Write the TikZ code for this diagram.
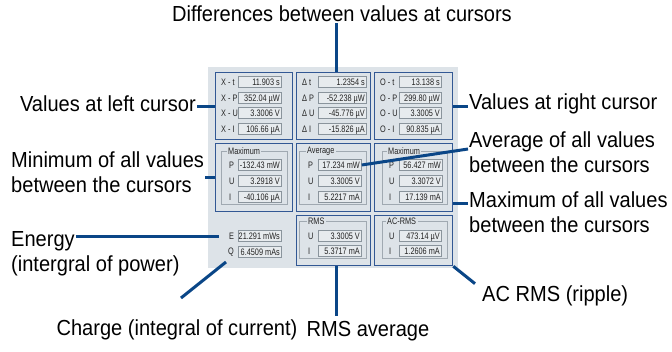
\documentclass[tikz,border=0pt]{standalone}
\usepackage{fontspec}
\setmainfont{Liberation Sans}
\newfontfamily\panelfont[FakeStretch=0.78]{Liberation Sans}
\newfontfamily\annfont[FakeStretch=0.92]{Liberation Sans}
\definecolor{panel}{RGB}{221,227,232}
\definecolor{boxblue}{RGB}{50,88,148}
\definecolor{conn}{RGB}{10,70,135}
\definecolor{fieldfill}{RGB}{231,235,238}
\definecolor{fieldline}{RGB}{138,148,156}
\definecolor{framegray}{RGB}{160,169,177}
\definecolor{paneltext}{RGB}{35,35,35}
\newcommand{\fld}[5]{\pgfmathsetmacro\myfw{#3-#2-4}\node[fld, anchor=west] (#1) at (#2,#4) {\makebox[\myfw pt][r]{#5}};}
\begin{document}
\begin{tikzpicture}[x=1pt,y=-1pt,
  ann/.style={font=\annfont\fontsize{21.8}{25}\selectfont, text=black, inner sep=1pt, align=left},
  lbl/.style={font=\panelfont\fontsize{9.4}{11}\selectfont, text=paneltext, inner sep=0pt},
  fld/.style={draw=fieldline, fill=fieldfill, line width=0.7pt, font=\panelfont\fontsize{9.4}{11}\selectfont, text=paneltext, inner xsep=1.5pt, inner ysep=0pt, minimum height=11pt, text height=6.7pt, text depth=0pt},
  bbox/.style={draw=boxblue, line width=1.3pt, inner sep=0pt},
  gframe/.style={draw=framegray, line width=0.8pt, inner sep=0pt},
  gtitle/.style={lbl, fill=panel, inner xsep=1.5pt, inner ysep=1pt, anchor=west},
  conn/.style={draw=conn, line width=3pt}]
\fill[white] (0,0) rectangle (672,351);
\useasboundingbox (0,0) rectangle (672,351);
% panel
\node[fill=panel, inner sep=0pt, minimum width=250pt, minimum height=201pt, anchor=north west] (panel) at (208,67) {};
% blue boxes
\node[bbox, minimum width=77pt, minimum height=67pt, anchor=north west] (b11) at (215,72) {};
\node[bbox, minimum width=74pt, minimum height=67pt, anchor=north west] (b12) at (296,72) {};
\node[bbox, minimum width=78pt, minimum height=67pt, anchor=north west] (b13) at (374,72) {};
\node[bbox, minimum width=77pt, minimum height=68pt, anchor=north west] (b21) at (215,143) {};
\node[bbox, minimum width=74pt, minimum height=68pt, anchor=north west] (b22) at (296,143) {};
\node[bbox, minimum width=78pt, minimum height=68pt, anchor=north west] (b23) at (374,143) {};
\node[bbox, minimum width=74pt, minimum height=50pt, anchor=north west] (b32) at (296,215) {};
\node[bbox, minimum width=78pt, minimum height=50pt, anchor=north west] (b33) at (374,215) {};
% group frames
\node[gframe, minimum width=66pt, minimum height=53pt, anchor=north west] (g21) at (221,151) {};
\node[gframe, minimum width=67pt, minimum height=53pt, anchor=north west] (g22) at (299,151) {};
\node[gframe, minimum width=65pt, minimum height=53pt, anchor=north west] (g23) at (382,151) {};
\node[gframe, minimum width=67pt, minimum height=37pt, anchor=north west] (g32) at (299,221) {};
\node[gframe, minimum width=65pt, minimum height=37pt, anchor=north west] (g33) at (382,221) {};
\node[gtitle] (t21) at (226.5,151) {Maximum};
\node[gtitle] (t22) at (305.5,151) {Average};
\node[gtitle] (t23) at (386.5,151) {Maximum};
\node[gtitle] (t32) at (306.5,221) {RMS};
\node[gtitle] (t33) at (385.5,221) {AC-RMS};
% row 1 col 1
\node[lbl, anchor=west] (l111) at (221,82) {X - t};
\node[lbl, anchor=west] (l112) at (221,98) {X - P};
\node[lbl, anchor=west] (l113) at (221,113) {X - U};
\node[lbl, anchor=west] (l114) at (221,129) {X - I};
\fld{f111}{238}{282}{82}{11.903 s}
\fld{f112}{238}{282}{98}{352.04 µW}
\fld{f113}{238}{282}{113}{3.3006 V}
\fld{f114}{238}{282}{129}{106.66 µA}
% row 1 col 2
\node[lbl, anchor=west] (l121) at (302,82) {Δ t};
\node[lbl, anchor=west] (l122) at (302,98) {Δ P};
\node[lbl, anchor=west] (l123) at (302,113) {Δ U};
\node[lbl, anchor=west] (l124) at (302,129) {Δ I};
\fld{f121}{318}{367}{82}{1.2354 s}
\fld{f122}{318}{367}{98}{-52.238 µW}
\fld{f123}{318}{367}{113}{-45.776 µV}
\fld{f124}{318}{367}{129}{-15.826 µA}
% row 1 col 3
\node[lbl, anchor=west] (l131) at (380,82) {O - t};
\node[lbl, anchor=west] (l132) at (380,98) {O - P};
\node[lbl, anchor=west] (l133) at (380,113) {O - U};
\node[lbl, anchor=west] (l134) at (380,129) {O - I};
\fld{f131}{399}{442}{82}{13.138 s}
\fld{f132}{399}{442}{98}{299.80 µW}
\fld{f133}{399}{442}{113}{3.3005 V}
\fld{f134}{399}{442}{129}{90.835 µA}
% row 2 col 1
\node[lbl, anchor=west] (l211) at (229,165) {P};
\node[lbl, anchor=west] (l212) at (229,181) {U};
\node[lbl, anchor=west] (l213) at (229,197) {I};
\fld{f211}{238}{282}{165}{-132.43 mW}
\fld{f212}{238}{282}{181}{3.2918 V}
\fld{f213}{238}{282}{197}{-40.106 µA}
% row 2 col 2
\node[lbl, anchor=west] (l221) at (308,165) {P};
\node[lbl, anchor=west] (l222) at (308,181) {U};
\node[lbl, anchor=west] (l223) at (308,197) {I};
\fld{avgP}{318}{362}{165}{17.234 mW}
\fld{f222}{318}{362}{181}{3.3005 V}
\fld{f223}{318}{362}{197}{5.2217 mA}
% row 2 col 3
\node[lbl, anchor=west] (l231) at (389,165) {P};
\node[lbl, anchor=west] (l232) at (389,181) {U};
\node[lbl, anchor=west] (l233) at (389,197) {I};
\fld{f231}{399}{443}{165}{56.427 mW}
\fld{f232}{399}{443}{181}{3.3072 V}
\fld{f233}{399}{443}{197}{17.139 mA}
% row 3 col 1
\node[lbl, anchor=west] (Elbl) at (229,236) {E};
\node[lbl, anchor=west] (Qlbl) at (228,252) {Q};
\fld{f311}{238}{282}{236}{21.291 mWs}
\fld{f312}{238}{282}{252}{6.4509 mAs}
% row 3 col 2
\node[lbl, anchor=west] (l321) at (308,236) {U};
\node[lbl, anchor=west] (l322) at (308,251) {I};
\fld{f321}{318}{362}{236}{3.3005 V}
\fld{f322}{318}{362}{251}{5.3717 mA}
% row 3 col 3
\node[lbl, anchor=west] (l331) at (389,236) {U};
\node[lbl, anchor=west] (l332) at (389,251) {I};
\fld{f331}{399}{442}{236}{473.14 µV}
\fld{f332}{399}{442}{251}{1.2606 mA}
% annotations
\node[ann] (diff) at (342,14) {Differences between values at cursors};
\node[ann, anchor=east] (leftlbl) at (197,104) {Values at left cursor};
\node[ann, anchor=west] (rightlbl) at (468,104) {Values at right cursor};
\node[ann, anchor=west] (minlbl) at (10,172) {Minimum of all values\\between the cursors};
\node[ann, anchor=west] (avglbl) at (468,152) {Average of all values\\between the cursors};
\node[ann, anchor=west] (maxlbl) at (468,212) {Maximum of all values\\between the cursors};
\node[ann, anchor=west] (energy) at (10,241) {Energy};
\node[ann, anchor=west] (energy2) at (10,266) {(intergral of power)};
\node[ann] (charge) at (177,330) {Charge (integral of current)};
\node[ann] (rmslbl) at (368,331) {RMS average};
\node[ann, anchor=west] (acl) at (481,296) {AC RMS (ripple)};
% connectors
\coordinate (chgtip) at (226,262);
\coordinate (chgtail) at (181,298);
\draw[conn] ([xshift=3pt]b12.north) -- ([xshift=3pt]b12.north |- diff.south);
\draw[conn] (b11.west) -- (b11.west -| leftlbl.east);
\draw[conn] (b13.east) -- (b13.east -| rightlbl.west);
\draw[conn] (b21.west) -- (b21.west -| minlbl.east);
\draw[conn] (avgP.east) -- ([yshift=3pt]avglbl.west);
\draw[conn] ([yshift=9pt]maxlbl.west) -- ([yshift=9pt]maxlbl.west -| b23.east);
\draw[conn] (energy.east |- Elbl.west) -- ([xshift=-10pt]Elbl.west);
\draw[conn] (chgtip) -- (chgtail);
\draw[conn] ([xshift=3pt]b32.south) -- ([xshift=3pt,yshift=4pt]b32.south |- rmslbl.north);
\draw[conn] (b33.south east) -- ([xshift=-6pt,yshift=1pt]acl.north west);
\end{tikzpicture}
\end{document}
